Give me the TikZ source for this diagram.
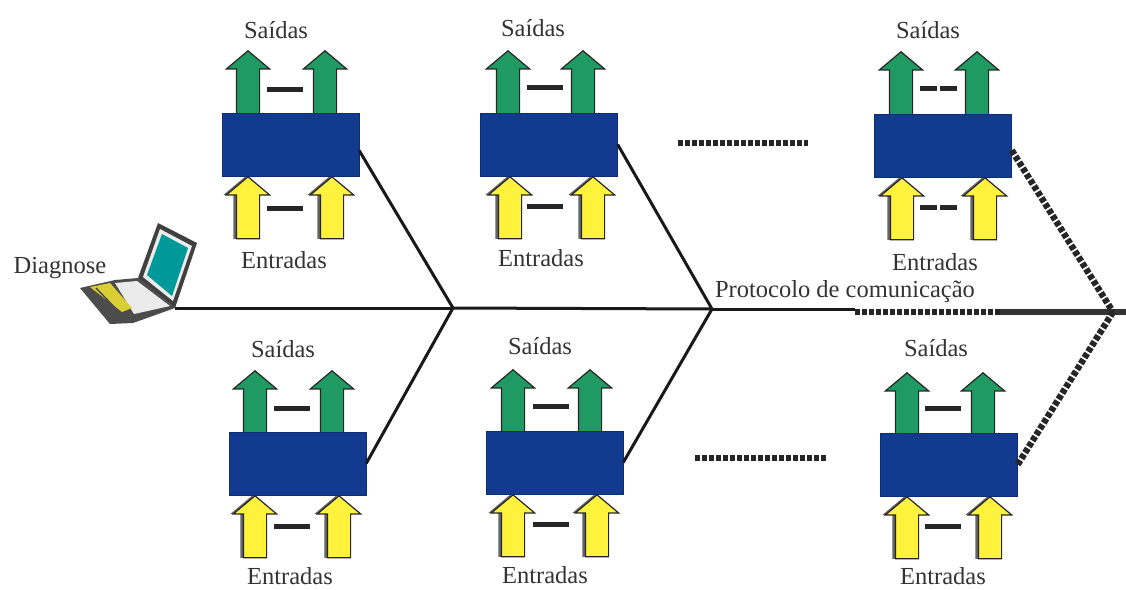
\documentclass[tikz,border=0pt]{standalone}
\usepackage{fontspec}
\setmainfont{Liberation Serif}
\usepackage{tikz}
\usetikzlibrary{shapes.arrows, positioning}
\definecolor{colorBox}{HTML}{123A8E}
\definecolor{colorOut}{HTML}{1E9A62}
\definecolor{colorIn}{HTML}{FFF23C}
\definecolor{colorText}{HTML}{333333}
\tikzset{
  modulebox/.style={draw=colorBox!80!black, fill=colorBox, minimum width=137pt, minimum height=63pt, inner sep=0pt},
  flowarrow/.style={single arrow, shape border rotate=90, anchor=tip, draw=black!85, line width=1.2pt, inner sep=11pt, single arrow head extend=10pt, single arrow tip angle=100},
  outarrow/.style={flowarrow, fill=colorOut, minimum height=64pt},
  inarrow/.style={flowarrow, fill=colorIn, minimum height=62pt, preaction={fill=black!60, transform canvas={xshift=-3pt}}},
  bar/.style={fill=black!85, minimum width=36pt, minimum height=5pt, inner sep=0pt},
  halfbar/.style={fill=black!85, minimum width=17pt, minimum height=5pt, inner sep=0pt},
  caption/.style={text=colorText, font=\fontsize{24.5}{28}\selectfont, inner sep=0pt},
  busline/.style={draw=black!90, line width=3pt},
  dotline/.style={draw=black!85, line width=6.5pt, dash pattern=on 5pt off 2pt},
}
\begin{document}
\begin{tikzpicture}[x=1pt, y=-1pt]
\useasboundingbox (0,0) rectangle (1126,589);
% junctions
\coordinate (j1) at (453,308);
\coordinate (j2) at (712,309);
\coordinate (j3) at (855,309);
\coordinate (j4) at (855,312);
\coordinate (j5) at (1000,312);
\coordinate (j6) at (1113,312);
\coordinate (j7) at (1126,312);
% laptop
\coordinate (pc) at (175,308);
\fill[black!70] (80,288) -- (115,280) -- (138,278) -- (175,308) -- (133,323) -- (110,324) -- cycle;
\fill[black!8] (115,283) -- (137,281) -- (170,306) -- (134,314) -- cycle;
\fill[colorIn!85!black] (90,287) -- (110,283) -- (132,308) -- (122,312) -- cycle;
\draw[black!70, line width=1.5pt] (96,288) -- (118,311);
\fill[black!75] (158,223) -- (197,243) -- (175,308) -- (138,278) -- cycle;
\fill[black!8] (160,229) -- (192,246) -- (173,301) -- (143,277) -- cycle;
\fill[teal!80!cyan] (162,234) -- (188,248) -- (172,296) -- (147,275) -- cycle;
% module 1
\node[outarrow] (o1a) at (248,50) {};
\node[outarrow] (o1b) at (325,50) {};
\node[inarrow] (i1a) at (248,176) {};
\node[inarrow] (i1b) at (332,176) {};
\node[modulebox] (m1) at (290.5,144.5) {};
\node[bar] (b1a) at (285,89) {};
\node[bar] (b1b) at (285,208) {};
\node[caption] (s1) at (276,30) {Saídas};
\node[caption] (e1) at (284,260) {Entradas};
% module 2
\node[outarrow] (o2a) at (508,50) {};
\node[outarrow] (o2b) at (583,50) {};
\node[inarrow] (i2a) at (510,176) {};
\node[inarrow] (i2b) at (593,176) {};
\node[modulebox] (m2) at (549,144.5) {};
\node[bar] (b2a) at (545,87) {};
\node[bar] (b2b) at (545,206) {};
\node[caption] (s2) at (533,28) {Saídas};
\node[caption] (e2) at (541,258) {Entradas};
% module 3
\node[outarrow] (o3a) at (901,51) {};
\node[outarrow] (o3b) at (977,51) {};
\node[inarrow] (i3a) at (902,177) {};
\node[inarrow] (i3b) at (985,177) {};
\node[modulebox] (m3) at (943,145.5) {};
\node[halfbar] (b3a) at (928,88) {};
\node[halfbar] (b3b) at (948,88) {};
\node[halfbar] (b3c) at (928,207) {};
\node[halfbar] (b3d) at (948,207) {};
\node[caption] (s3) at (928,30) {Saídas};
\node[caption] (e3) at (935,262) {Entradas};
% module 4
\node[outarrow] (o4a) at (255,370) {};
\node[outarrow] (o4b) at (332,370) {};
\node[inarrow] (i4a) at (255,495) {};
\node[inarrow] (i4b) at (339,495) {};
\node[modulebox] (m4) at (297.5,463.5) {};
\node[bar] (b4a) at (292,408) {};
\node[bar] (b4b) at (292,526) {};
\node[caption] (s4) at (283,349) {Saídas};
\node[caption] (e4) at (290,576) {Entradas};
% module 5
\node[outarrow] (o5a) at (513,369) {};
\node[outarrow] (o5b) at (590,369) {};
\node[inarrow] (i5a) at (513,494) {};
\node[inarrow] (i5b) at (597,494) {};
\node[modulebox] (m5) at (554.5,462.5) {};
\node[bar] (b5a) at (551,406) {};
\node[bar] (b5b) at (551,524) {};
\node[caption] (s5) at (540,346) {Saídas};
\node[caption] (e5) at (545,575) {Entradas};
% module 6
\node[outarrow] (o6a) at (907,372) {};
\node[outarrow] (o6b) at (983,372) {};
\node[inarrow] (i6a) at (907,496) {};
\node[inarrow] (i6b) at (990,496) {};
\node[modulebox] (m6) at (949,464.5) {};
\node[bar] (b6a) at (943,408) {};
\node[bar] (b6b) at (943,526) {};
\node[caption] (s6) at (936,348) {Saídas};
\node[caption] (e6) at (943,576) {Entradas};
% other labels
\node[caption] (diag) at (60,268) {Diagnose};
\node[caption] (bus) at (845,292) {Protocolo de comunicação};
% row dots
\coordinate (d1a) at (678,143);
\coordinate (d1b) at (808,143);
\coordinate (d2a) at (695,458);
\coordinate (d2b) at (826,458);
\draw[dotline] (d1a) -- (d1b);
\draw[dotline] (d2a) -- (d2b);
% bus
\draw[busline] (pc) -- (j1);
\draw[busline] (j1) -- (j2);
\draw[busline] (j2) -- (j3);
\draw[dotline] (j4) -- (j5);
\draw[draw=black!80, line width=6.5pt] (j5) -- (j7);
\draw[busline] (m1.-5) -- (j1);
\draw[busline] (m4.east) -- (j1);
\draw[busline] (m2.east) -- (j2);
\draw[busline] (m5.east) -- (j2);
\draw[dotline] (m3.-4) -- (j6);
\draw[dotline] (m6.east) -- (j6);
\end{tikzpicture}
\end{document}
